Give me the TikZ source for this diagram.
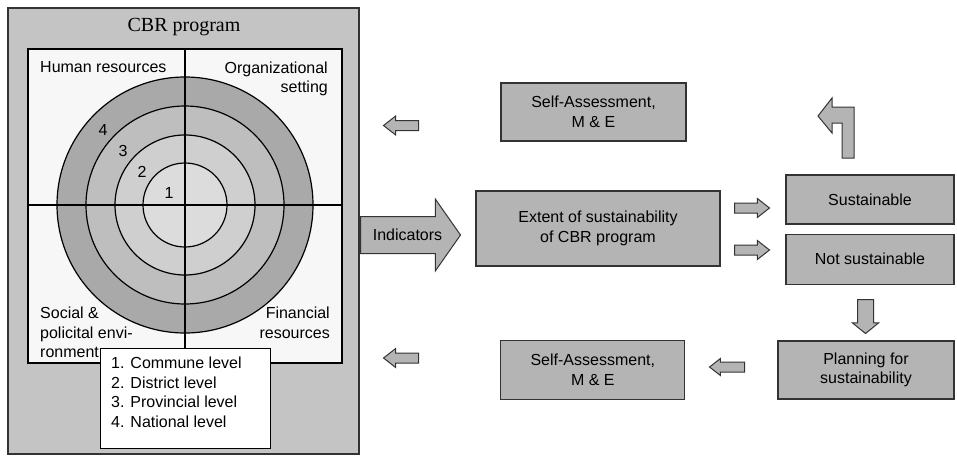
\documentclass[tikz,border=0pt]{standalone}
\usepackage{fontspec}
\setmainfont{Liberation Sans}
\newfontfamily\titlefont{Liberation Serif}
\usetikzlibrary{positioning, shapes.arrows}

\definecolor{outergray}{HTML}{C4C4C4}
\definecolor{boxgray}{HTML}{B4B4B4}
\definecolor{paper}{HTML}{F7F7F7}
\definecolor{ringA}{HTML}{A9A9A9}
\definecolor{ringB}{HTML}{BEBEBE}
\definecolor{ringC}{HTML}{CFCFCF}
\definecolor{ringD}{HTML}{DCDCDC}

\tikzset{
    box/.style        = {draw = black!80, fill = boxgray, line width = 1.2pt, align = center, inner sep = 0pt},
    blockarrow/.style = {single arrow, draw = black!80, fill = boxgray, line width = 1pt, inner sep = 4.5pt,
                         minimum height = 35pt, single arrow head extend = 4.5pt,
                         single arrow tip angle = 76},
    quadtext/.style   = {inner sep = 0pt, align = left},
    ring/.style       = {draw = black, line width = 1.2pt}
}

\begin{document}
\begin{tikzpicture}[x = 1pt, y = -1pt, font = \fontsize{16}{19.5}\selectfont]
        \useasboundingbox (0,0) rectangle (957,455);

        % CBR program panel
        \draw[fill = outergray, line width = 1.2pt, draw = black!80] (8,8) rectangle (359,454);
        \node (title) at (184,27) {\titlefont\fontsize{20}{22}\selectfont CBR program};
        \draw[fill = paper, line width = 1.2pt] (28,49) rectangle (342,363);

        \coordinate (c) at (185,205);
        \draw[ring, fill = ringA] (c) circle (128pt);
        \draw[ring, fill = ringB] (c) circle (99pt);
        \draw[ring, fill = ringC] (c) circle (70pt);
        \draw[ring, fill = ringD] (c) circle (42pt);
        \draw[line width = 1.2pt] (185,49) -- (185,363);
        \draw[line width = 1.2pt] (28,205) -- (342,205);

        \node (n4) [inner sep = 0pt] at (103,130) {4};
        \node (n3) [inner sep = 0pt] at (123,151) {3};
        \node (n2) [inner sep = 0pt] at (142,172) {2};
        \node (n1) [inner sep = 0pt] at (169,193) {1};

        \node (hum) [quadtext, anchor = north west] at (40,61.5) {Human resources};
        \node (org) [quadtext, align = right, anchor = north east] at (328,61.5) {Organizational\\setting};
        \node (soc) [quadtext, anchor = north west] at (40,307) {Social \&\\policital envi-\\ronment};
        \node (fin) [quadtext, align = right, anchor = north east] at (330,307) {Financial\\resources};

        \node (legend) [draw, fill = white, line width = 1.2pt, minimum width = 170pt, minimum height = 100pt,
                        anchor = north west] at (100,348) {};
        \node (levels) [quadtext, anchor = north west] at (111,357)
                {1. Commune level\\2. District level\\3. Provincial level\\4. National level};

        % assessment side
        \node (sa1)  [box, minimum width = 185pt, minimum height = 58pt] at (593.5,112) {Self-Assessment,\\M \& E};
        \node (ext)  [box, minimum width = 244pt, minimum height = 75pt] at (598,228.5) {Extent of sustainability\\of CBR program};
        \node (sus)  [box, minimum width = 168pt, minimum height = 49pt] at (870,199.5) {Sustainable};
        \node (nsus) [box, minimum width = 168pt, minimum height = 50pt, below = 9pt of sus] {Not sustainable};
        \node (plan) [box, minimum width = 176pt, minimum height = 58pt] at (866,370) {Planning for\\sustainability};
        \node (sa2)  [box, minimum width = 184pt, minimum height = 59pt, left = 92pt of plan] {Self-Assessment,\\M \& E};

        \node (ind) [blockarrow, anchor = tail, inner xsep = 0pt, inner ysep = 9pt, text height = 14pt, text depth = 4pt,
                     minimum height = 100pt, single arrow head extend = 17.5pt, single arrow tip angle = 110]
                     at (360,235) {\hspace*{7pt}Indicators};
        \node (a1) [blockarrow, anchor = tail, shape border rotate = 180] at (419,125.5) {};
        \node (a2) [blockarrow, anchor = tail] at (734,208) {};
        \node (a3) [blockarrow, anchor = tail] at (734,250) {};
        \node (a4) [blockarrow, anchor = tail, shape border rotate = 270, inner sep = 7.5pt, minimum height = 34pt,
                    single arrow head extend = 5pt, single arrow tip angle = 102] at (865.5,299) {};
        \node (a5) [blockarrow, anchor = tail, shape border rotate = 180, single arrow head extend = 3.5pt] at (745,367) {};
        \node (a6) [blockarrow, anchor = tail, shape border rotate = 180] at (419,358) {};

        % bent arrow over Sustainable
        \draw[fill = boxgray, draw = black!80, line width = 1pt]
            (854,158) -- (854,107) -- (832,107) -- (832,98) -- (818,116) -- (832,133)
            -- (832,123) -- (842,123) -- (842,158) -- cycle;

    \end{tikzpicture}
\end{document}
